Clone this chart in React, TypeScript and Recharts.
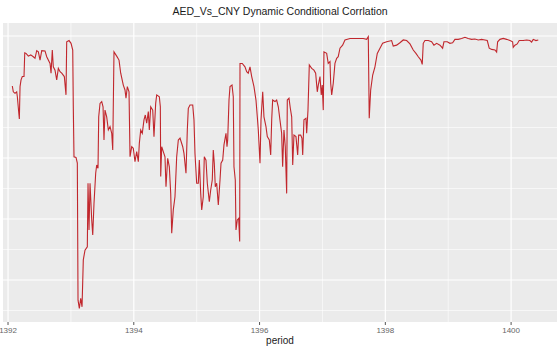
import { LineChart, Line, XAxis, YAxis, CartesianGrid, ReferenceLine, Label } from 'recharts';

// period in Persian years (decimal), DCC value
const period = [
  1392.068, 1392.084, 1392.111, 1392.138, 1392.148, 1392.164, 1392.18, 1392.191, 1392.207, 1392.227,
  1392.254, 1392.266, 1392.286, 1392.323, 1392.361, 1392.402, 1392.429, 1392.456, 1392.482, 1392.509,
  1392.536, 1392.588, 1392.615, 1392.668, 1392.684, 1392.704, 1392.72, 1392.747, 1392.774, 1392.8,
  1392.827, 1392.854, 1392.895, 1392.922, 1392.933, 1392.97, 1393.002, 1393.029, 1393.038, 1393.049,
  1393.081, 1393.102, 1393.113, 1393.134, 1393.156, 1393.177, 1393.197, 1393.224, 1393.261, 1393.272,
  1393.288, 1393.304, 1393.331, 1393.347, 1393.367, 1393.394, 1393.41, 1393.431, 1393.442, 1393.463,
  1393.49, 1393.511, 1393.526, 1393.542, 1393.569, 1393.595, 1393.622, 1393.649, 1393.665, 1393.685,
  1393.728, 1393.765, 1393.792, 1393.833, 1393.86, 1393.876, 1393.897, 1393.924, 1393.94, 1393.967,
  1393.992, 1394.019, 1394.046, 1394.072, 1394.088, 1394.11, 1394.135, 1394.162, 1394.183, 1394.205,
  1394.231, 1394.247, 1394.269, 1394.301, 1394.321, 1394.348, 1394.364, 1394.406, 1394.422, 1394.428,
  1394.444, 1394.469, 1394.496, 1394.512, 1394.539, 1394.565, 1394.587, 1394.603, 1394.628, 1394.655,
  1394.682, 1394.708, 1394.735, 1394.778, 1394.798, 1394.83, 1394.851, 1394.867, 1394.894, 1394.937,
  1394.957, 1394.973, 1395.0, 1395.026, 1395.042, 1395.064, 1395.08, 1395.105, 1395.121, 1395.148,
  1395.169, 1395.201, 1395.223, 1395.248, 1395.264, 1395.28, 1395.296, 1395.318, 1395.344, 1395.371,
  1395.387, 1395.414, 1395.434, 1395.466, 1395.482, 1395.493, 1395.514, 1395.53, 1395.562, 1395.582,
  1395.593, 1395.614, 1395.625, 1395.646, 1395.668, 1395.684, 1395.689, 1395.725, 1395.768, 1395.795,
  1395.82, 1395.848, 1395.875, 1395.911, 1395.943, 1395.964, 1395.98, 1396.007, 1396.023, 1396.05,
  1396.07, 1396.102, 1396.123, 1396.155, 1396.177, 1396.193, 1396.208, 1396.245, 1396.272, 1396.298,
  1396.324, 1396.351, 1396.367, 1396.388, 1396.409, 1396.431, 1396.441, 1396.468, 1396.489, 1396.511,
  1396.527, 1396.547, 1396.579, 1396.606, 1396.622, 1396.654, 1396.674, 1396.686, 1396.706, 1396.738,
  1396.749, 1396.77, 1396.791, 1396.829, 1396.865, 1396.892, 1396.918, 1396.934, 1396.961, 1396.981,
  1396.997, 1397.013, 1397.024, 1397.067, 1397.092, 1397.12, 1397.131, 1397.147, 1397.172, 1397.199,
  1397.226, 1397.251, 1397.279, 1397.321, 1397.358, 1397.438, 1397.544, 1397.649, 1397.703, 1397.729,
  1397.744, 1397.767, 1397.799, 1397.835, 1397.872, 1397.915, 1397.957, 1398.021, 1398.1, 1398.126,
  1398.18, 1398.232, 1398.285, 1398.339, 1398.392, 1398.444, 1398.487, 1398.524, 1398.566, 1398.587,
  1398.603, 1398.63, 1398.683, 1398.736, 1398.773, 1398.816, 1398.869, 1398.911, 1398.932, 1398.985,
  1399.027, 1399.07, 1399.107, 1399.159, 1399.213, 1399.266, 1399.318, 1399.372, 1399.425, 1399.478,
  1399.531, 1399.584, 1399.621, 1399.652, 1399.691, 1399.743, 1399.77, 1399.786, 1399.823, 1399.875,
  1399.929, 1399.982, 1400.024, 1400.034, 1400.061, 1400.097, 1400.129, 1400.193, 1400.247, 1400.299,
  1400.326, 1400.352, 1400.395, 1400.432,
];

const dcc = [
  0.836, 0.817, 0.812, 0.817, 0.801, 0.764, 0.728, 0.834, 0.856, 0.867,
  0.867, 0.945, 0.943, 0.934, 0.938, 0.932, 0.927, 0.952, 0.948, 0.921,
  0.952, 0.951, 0.932, 0.91, 0.878, 0.954, 0.899, 0.888, 0.856, 0.894,
  0.883, 0.878, 0.867, 0.807, 0.981, 0.985, 0.976, 0.954, 0.768, 0.604,
  0.602, 0.583, 0.134, 0.107, 0.14, 0.112, 0.266, 0.298, 0.309, 0.517,
  0.364, 0.517, 0.397, 0.348, 0.451, 0.55, 0.577, 0.566, 0.735, 0.779,
  0.785, 0.768, 0.659, 0.757, 0.735, 0.692, 0.703, 0.681, 0.626, 0.948,
  0.934, 0.921, 0.878, 0.839, 0.823, 0.796, 0.834, 0.817, 0.604, 0.637,
  0.632, 0.588, 0.621, 0.588, 0.648, 0.692, 0.681, 0.725, 0.741, 0.714,
  0.752, 0.692, 0.768, 0.757, 0.67, 0.779, 0.807, 0.801, 0.768, 0.539,
  0.637, 0.621, 0.604, 0.506, 0.599, 0.571, 0.484, 0.353, 0.43, 0.473,
  0.604, 0.659, 0.665, 0.637, 0.615, 0.55, 0.692, 0.763, 0.774, 0.774,
  0.725, 0.615, 0.517, 0.517, 0.593, 0.484, 0.43, 0.473, 0.604, 0.593,
  0.517, 0.457, 0.495, 0.528, 0.626, 0.583, 0.506, 0.517, 0.446, 0.528,
  0.583, 0.593, 0.643, 0.681, 0.637, 0.659, 0.79, 0.834, 0.839, 0.801,
  0.571, 0.528, 0.364, 0.397, 0.402, 0.326, 0.91, 0.91, 0.899, 0.883,
  0.878, 0.899, 0.867, 0.834, 0.79, 0.735, 0.692, 0.583, 0.725, 0.817,
  0.735, 0.703, 0.67, 0.659, 0.61, 0.725, 0.79, 0.785, 0.79, 0.768,
  0.725, 0.681, 0.571, 0.692, 0.637, 0.484, 0.79, 0.796, 0.763, 0.735,
  0.577, 0.675, 0.67, 0.61, 0.675, 0.675, 0.665, 0.61, 0.725, 0.73,
  0.681, 0.757, 0.905, 0.894, 0.888, 0.878, 0.817, 0.839, 0.867, 0.807,
  0.839, 0.757, 0.948, 0.943, 0.91, 0.916, 0.845, 0.807, 0.845, 0.91,
  0.927, 0.932, 0.96, 0.97, 0.987, 0.992, 0.992, 0.992, 0.989, 0.998,
  0.73, 0.823, 0.872, 0.899, 0.943, 0.96, 0.976, 0.981, 0.985, 0.967,
  0.97, 0.978, 0.987, 0.985, 0.974, 0.954, 0.943, 0.932, 0.921, 0.907,
  0.976, 0.985, 0.985, 0.981, 0.97, 0.976, 0.97, 0.96, 0.981, 0.981,
  0.976, 0.978, 0.989, 0.989, 0.992, 0.996, 0.992, 0.989, 0.99, 0.987,
  0.989, 0.987, 0.985, 0.96, 0.956, 0.954, 0.947, 0.981, 0.989, 0.992,
  0.989, 0.985, 0.981, 0.963, 0.97, 0.974, 0.985, 0.985, 0.987, 0.985,
  0.98, 0.989, 0.985, 0.987,
];

const xTicks = [1392, 1394, 1396, 1398, 1400];
const xMinor = [1393, 1395, 1397, 1399];
const yMajor = [0.2, 0.4, 0.6, 0.8, 1.0];
const yMinor = [0.1, 0.3, 0.5, 0.7, 0.9];

const xDomain: [number, number] = [1391.92, 1400.73];
const yDomain: [number, number] = [0.0623, 1.0426];

const data = period.map((p, i) => ({ period: p, dcc: dcc[i] }));

export default function App() {
  return (
    <div style={{ position: 'absolute', left: 0, top: 0, width: 560, height: 347, background: '#fff' }}>
      <div
        style={{
          position: 'absolute',
          top: 5,
          left: 0,
          width: 560,
          textAlign: 'center',
          fontFamily: '"Liberation Sans", Arial, sans-serif',
          fontSize: 10.5,
          color: '#1a1a1a',
        }}
      >
        AED_Vs_CNY Dynamic Conditional Corrlation
      </div>
      <LineChart width={560} height={347} data={data} margin={{ top: 23, right: 3, left: 3, bottom: 0 }}>
        <CartesianGrid fill="#EBEBEB" stroke="none" horizontal={false} vertical={false} />
        {yMinor.map((v) => (
          <ReferenceLine key={`ym${v}`} y={v} stroke="#ffffff" strokeWidth={0.6} />
        ))}
        {xMinor.map((v) => (
          <ReferenceLine key={`xm${v}`} x={v} stroke="#ffffff" strokeWidth={0.6} />
        ))}
        {yMajor.map((v) => (
          <ReferenceLine key={`yM${v}`} y={v} stroke="#ffffff" strokeWidth={1.2} />
        ))}
        {xTicks.map((v) => (
          <ReferenceLine key={`xM${v}`} x={v} stroke="#ffffff" strokeWidth={1.2} />
        ))}
        <XAxis
          dataKey="period"
          type="number"
          domain={xDomain}
          ticks={xTicks}
          allowDataOverflow
          height={25}
          axisLine={false}
          tickLine={{ stroke: '#555' }}
          tickSize={3}
          tick={{ fill: '#666', fontSize: 8, fontFamily: '"Liberation Sans", Arial, sans-serif' }}
        >
          <Label
            value="period"
            position="insideBottom"
            offset={3}
            style={{ fill: '#1a1a1a', fontSize: 10, fontFamily: '"Liberation Sans", Arial, sans-serif' }}
          />
        </XAxis>
        <YAxis hide width={0} type="number" domain={yDomain} allowDataOverflow />
        <Line
          type="linear"
          dataKey="dcc"
          stroke="#c1272d"
          strokeWidth={1.1}
          dot={false}
          isAnimationActive={false}
        />
      </LineChart>
    </div>
  );
}
